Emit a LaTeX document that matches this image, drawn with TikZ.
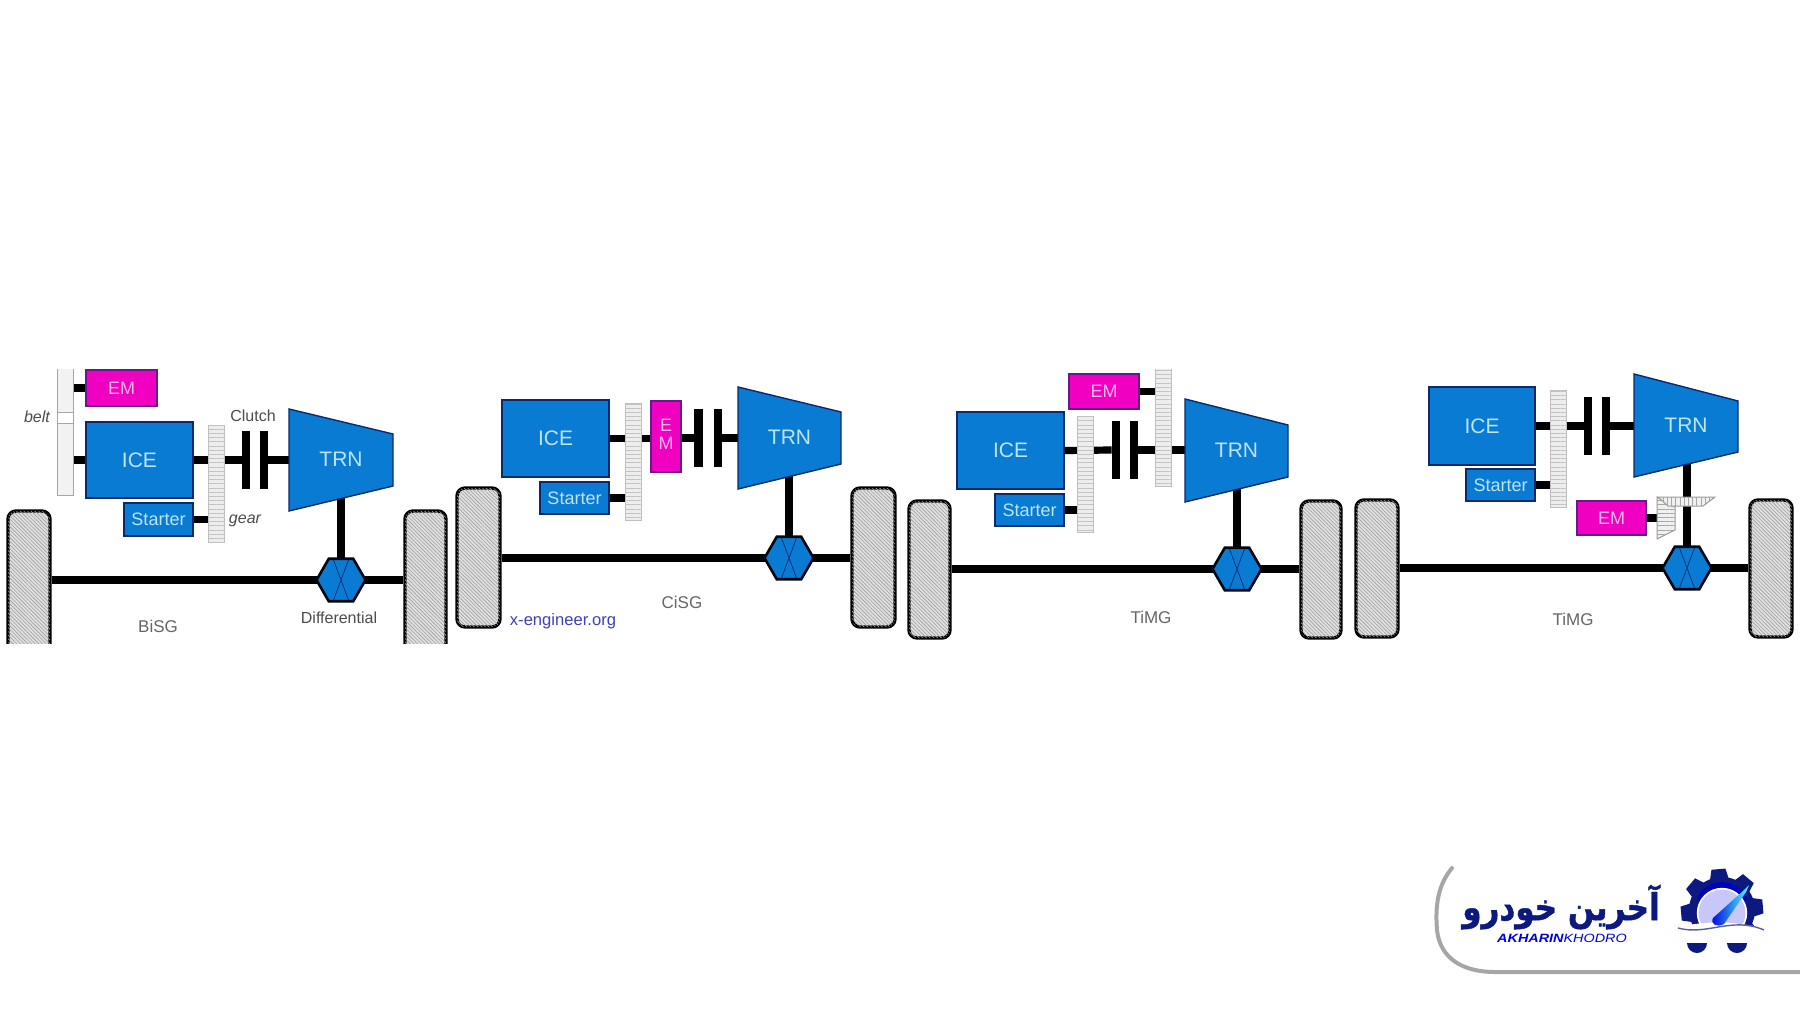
\documentclass[tikz,border=0pt]{standalone}
\usepackage{fontspec}
\setmainfont{Liberation Sans}
\newfontfamily\arabicfont[Script=Arabic,FakeBold=1.2]{DejaVu Sans Bold}
\TeXXeTstate=1
\usetikzlibrary{shapes.geometric,patterns.meta}
\definecolor{iceblue}{HTML}{0A7BD2}
\definecolor{navyline}{HTML}{0B2A6E}
\definecolor{emmag}{HTML}{F000C0}
\definecolor{lighttxt}{HTML}{BCE4F2}
\definecolor{pinktxt}{HTML}{F8B8E8}
\definecolor{labgray}{HTML}{666666}
\definecolor{logonavy}{HTML}{0C1A80}
\tikzset{
  block/.style={draw=navyline,line width=0.7pt,fill=iceblue,text=lighttxt,inner sep=0pt,font=\fontsize{10.5}{11}\selectfont},
  startbox/.style={block,font=\fontsize{9}{10}\selectfont},
  embox/.style={draw=navyline!60!emmag,line width=0.6pt,fill=emmag,text=pinktxt,inner sep=0pt,font=\fontsize{9}{10}\selectfont},
  gearbox/.style={draw=black!25,line width=0.5pt,inner sep=0pt,fill=black!7,
     postaction={pattern={Lines[angle=0,distance=2.1pt,line width=0.45pt]},pattern color=black!24}},
  beltbox/.style={draw=black!35,line width=0.5pt,fill=black!5,inner sep=0pt},
  gapbox/.style={draw=black!35,line width=0.5pt,fill=white,inner sep=0pt},
  plate/.style={fill=black,inner sep=0pt},
  wheelbox/.style={draw=black,line width=1.7pt,rounded corners=4pt,inner sep=0pt,fill=black!12,
     postaction={pattern={Lines[angle=-45,distance=1.3pt,line width=0.3pt]},pattern color=black!38}},
  shaft/.style={line width=3.6pt,black},
  diffhex/.style={regular polygon,regular polygon sides=6,draw=black!85!navyline,
     line width=1.3pt,fill=iceblue,minimum size=24.5pt,inner sep=0pt},
  captxt/.style={text=labgray,inner sep=0pt,font=\fontsize{8.5}{10}\selectfont},
  smalltxt/.style={text=black!70,inner sep=0pt,font=\fontsize{8}{10}\selectfont},
  trnshape/.style={draw=navyline,line width=0.7pt,fill=iceblue},
  trntxt/.style={text=lighttxt,inner sep=0pt,font=\fontsize{10.5}{11}\selectfont},
  bevelv/.style={draw=black!40,line width=0.5pt,fill=black!6,postaction={pattern={Lines[angle=0,distance=2.1pt,line width=0.45pt]},pattern color=black!35}},
  bevelh/.style={draw=black!40,line width=0.5pt,fill=black!6,postaction={pattern={Lines[angle=90,distance=2.1pt,line width=0.45pt]},pattern color=black!35}}
}
% name, x0, y0, x1, y1, style, text
\newcommand{\rbx}[7]{\node[#6,minimum width={(#4-#2)*0.5pt},minimum height={(#5-#3)*0.5pt}] (#1) at ({(#2+#4)/2},{(#3+#5)/2}) {#7};}
% id, x0, x1, y0 (top left), y1 (top right), y2 (bottom right), y3 (bottom left)
\newcommand{\trnbody}[7]{\draw[trnshape] (#2,#4) -- (#3,#5) -- (#3,#6) -- (#2,#7) -- cycle;
  \node[trntxt] (#1) at ({(#2+#3)/2},{(#5+#6)/2-1}) {TRN};}
% id, cx, cy
\newcommand{\diffnode}[3]{\node[diffhex] (#1) at (#2,#3) {};
  \draw[navyline,line width=0.35pt] ([shift={(-7.5,-20)}]#1.center) -- ([shift={(7.5,20)}]#1.center)
    ([shift={(7.5,-20)}]#1.center) -- ([shift={(-7.5,20)}]#1.center);}
\begin{document}
\begin{tikzpicture}[x=0.5pt,y=-0.5pt]
\useasboundingbox[fill=white] (0,0) rectangle (1800,1013);
\begin{scope}
\clip (0,369) rectangle (1800,643);
% ---------- panel 1
\rbx{wl1}{8}{511}{50}{700}{wheelbox}{}
\rbx{wr1}{405}{511}{446}{700}{wheelbox}{}
\coordinate (t1s) at (341,495);
\coordinate (c1) at (341,580);
\draw[shaft] (wl1.east |- c1) -- (wr1.west |- c1);
\draw[shaft] (t1s) -- (c1);
\diffnode{d1}{341}{580}
\coordinate (t1w) at (289,460);
\coordinate (g1w) at (208,500);
\rbx{ice1}{86}{422}{193}{498}{block}{ICE}
\rbx{st1}{124}{503}{193}{536}{startbox}{Starter}
\rbx{em1}{86}{370}{157}{406}{embox}{EM}
\rbx{belt1}{57}{360}{73}{495}{beltbox}{}
\rbx{gap1}{57}{412}{73}{423}{gapbox}{}
\rbx{cla1}{242}{431}{250}{489}{plate}{}
\rbx{clb1}{260}{431}{268}{489}{plate}{}
\draw[shaft] (em1.west) -- (belt1.east |- em1.west);
\draw[shaft] (ice1.west) -- (belt1.east |- ice1.west);
\draw[shaft] (ice1.east) -- (cla1.west);
\draw[shaft] (clb1.east) -- (clb1.east -| t1w);
\draw[shaft] (st1.east) -- (st1.east -| g1w);
\rbx{gear1}{208}{425}{224}{542}{gearbox}{}
\trnbody{trn1}{289}{393}{409}{434}{486}{511}
\node[smalltxt,font=\fontsize{8}{10}\selectfont\itshape] (belt1t) at (37,417) {belt};
\node[smalltxt] (clutch1) at (253,416) {Clutch};
\node[smalltxt,font=\fontsize{8}{10}\selectfont\itshape] (gear1t) at (245,521) {gear};
\node[captxt] (bisg) at (158,626) {BiSG};
\node[smalltxt] (difft) at (339,618) {Differential};
% ---------- panel 2
\rbx{wl2}{457}{488}{500}{627}{wheelbox}{}
\rbx{wr2}{852}{488}{895}{627}{wheelbox}{}
\coordinate (t2s) at (789,470);
\coordinate (c2) at (789,558);
\draw[shaft] (wl2.east |- c2) -- (wr2.west |- c2);
\draw[shaft] (t2s) -- (c2);
\diffnode{d2}{789}{558}
\coordinate (t2w) at (738,438);
\coordinate (g2w) at (625,500);
\rbx{ice2}{502}{400}{609}{477}{block}{ICE}
\rbx{st2}{540}{482}{609}{514}{startbox}{Starter}
\rbx{em2}{651}{401}{681}{472}{embox}{\begin{tabular}{@{}c@{}}E\\[-1pt]M\end{tabular}}
\rbx{cla2}{694}{409}{703}{467}{plate}{}
\rbx{clb2}{714}{409}{722}{467}{plate}{}
\draw[shaft] (ice2.east) -- (ice2.east -| em2.west);
\draw[shaft] (cla2.west -| em2.east) -- (cla2.west);
\draw[shaft] (clb2.east) -- (clb2.east -| t2w);
\draw[shaft] (st2.east) -- (st2.east -| g2w);
\rbx{gear2}{625}{403}{641}{520}{gearbox}{}
\trnbody{trn2}{738}{841}{387}{412}{464}{489}
\node[captxt] (cisg) at (682,602) {CiSG};
\node[inner sep=0pt,text=black!35!blue!75!white,font=\fontsize{8.3}{10}\selectfont] (xeng) at (563,621) {x-engineer.org};
% ---------- panel 3
\rbx{wl3}{909}{501}{950}{638}{wheelbox}{}
\rbx{wr3}{1301}{501}{1341}{638}{wheelbox}{}
\coordinate (t3s) at (1237,482);
\coordinate (c3) at (1237,569);
\draw[shaft] (wl3.east |- c3) -- (wr3.west |- c3);
\draw[shaft] (t3s) -- (c3);
\diffnode{d3}{1237}{569}
\coordinate (t3w) at (1185,450);
\coordinate (g3a) at (1077,500);
\coordinate (g3b) at (1155,400);
\rbx{ice3}{957}{412}{1064}{489}{block}{ICE}
\rbx{st3}{995}{494}{1064}{526}{startbox}{Starter}
\rbx{em3}{1069}{374}{1139}{409}{embox}{EM}
\rbx{cla3}{1112}{421}{1120}{479}{plate}{}
\rbx{clb3}{1130}{421}{1138}{479}{plate}{}
\draw[shaft] (ice3.east) -- (cla3.west);
\draw[shaft] (clb3.east) -- (clb3.east -| t3w);
\draw[shaft] (st3.east) -- (st3.east -| g3a);
\draw[shaft] (em3.east) -- (em3.east -| g3b);
\rbx{gear3a}{1077}{416}{1093}{532}{gearbox}{}
\rbx{gear3b}{1155}{360}{1171}{486}{gearbox}{}
\trnbody{trn3}{1185}{1288}{399}{425}{477}{502}
\node[captxt] (timg1) at (1151,617) {TiMG};
% ---------- panel 4
\rbx{wl4}{1356}{500}{1398}{637}{wheelbox}{}
\rbx{wr4}{1750}{500}{1792}{637}{wheelbox}{}
\coordinate (t4s) at (1687,460);
\coordinate (c4) at (1687,568);
\draw[shaft] (wl4.east |- c4) -- (wr4.west |- c4);
\draw[shaft] (t4s) -- (c4);
\diffnode{d4}{1687}{568}
\coordinate (t4w) at (1634,426);
\coordinate (g4w) at (1550,500);
\coordinate (b4w) at (1657,500);
\rbx{ice4}{1429}{387}{1535}{465}{block}{ICE}
\rbx{st4}{1466}{469}{1535}{501}{startbox}{Starter}
\rbx{em4}{1577}{501}{1646}{535}{embox}{EM}
\rbx{cla4}{1584}{397}{1592}{455}{plate}{}
\rbx{clb4}{1602}{397}{1610}{455}{plate}{}
\draw[shaft] (ice4.east) -- (cla4.west);
\draw[shaft] (clb4.east) -- (clb4.east -| t4w);
\draw[shaft] (st4.east) -- (st4.east -| g4w);
\draw[shaft] (em4.east) -- (em4.east -| b4w);
\rbx{gear4}{1550}{390}{1566}{507}{gearbox}{}
\trnbody{trn4}{1634}{1738}{374}{401}{452}{477}
% bevel gear pair
\path[bevelv] (1657,497) -- (1675,507) -- (1675,530) -- (1657,539) -- cycle;
\path[bevelh] (1658,497) -- (1715,497) -- (1703,506) -- (1668,506) -- cycle;
\node[captxt] (timg2) at (1573,619) {TiMG};
\end{scope}
% ---------- logo panel
\draw[black!35,line width=2pt,line cap=round] (1452,868) .. controls (1438,885) and (1435,905) .. (1437,930)
  .. controls (1440,958) and (1462,972) .. (1495,972) -- (1800,972);
% logo text
\node[inner sep=0pt,text=logonavy,yscale=1.2] (fa) at (1561,907) {\arabicfont\fontsize{15.5}{20}\selectfont\beginR آخرین خودرو\endR};
\node[inner sep=0pt,text=blue!85!black,xscale=1.2] (en) at (1562,938) {\fontsize{6}{7}\selectfont\itshape\textbf{AKHARIN}KHODRO};
% logo gear
\begin{scope}[shift={(1722,910)}]
  \foreach \a in {0,45,...,315} {
    \fill[logonavy,rotate=\a+5] (-7,-41) -- (7,-41) -- (10,-28) -- (-10,-28) -- cycle;
  }
  \fill[logonavy] (0,0) circle[radius=16.5pt];
  \fill[blue!75!black] (-25,-12) arc[start angle=205,end angle=335,radius=27.5] -- (20,-6) arc[start angle=330,end angle=210,radius=23] -- cycle;
  \fill[white] (0,3) circle[radius=12.6pt];
  \fill[black!8!blue!22!white] (0,3) circle[radius=11.7pt];
  \fill[white] (-60,22) .. controls (-20,8) and (20,10) .. (60,24) -- (60,50) -- (-60,50) -- cycle;
  \draw[logonavy!70,line width=0.7pt] (-44,18) .. controls (-15,26) and (10,6) .. (42,20);
  \fill[logonavy] (-35,33) arc[start angle=180,end angle=0,radius=10] -- cycle;
  \fill[logonavy] (5,33) arc[start angle=180,end angle=0,radius=10] -- cycle;
  \shade[left color=blue!85!black,right color=cyan!70!white] (-9,8) -- (22,-20) -- (27,-25) -- (24,-18) -- (2,14) .. controls (-5,18) and (-12,14) .. (-9,8) -- cycle;
\end{scope}
\end{tikzpicture}
\end{document}
